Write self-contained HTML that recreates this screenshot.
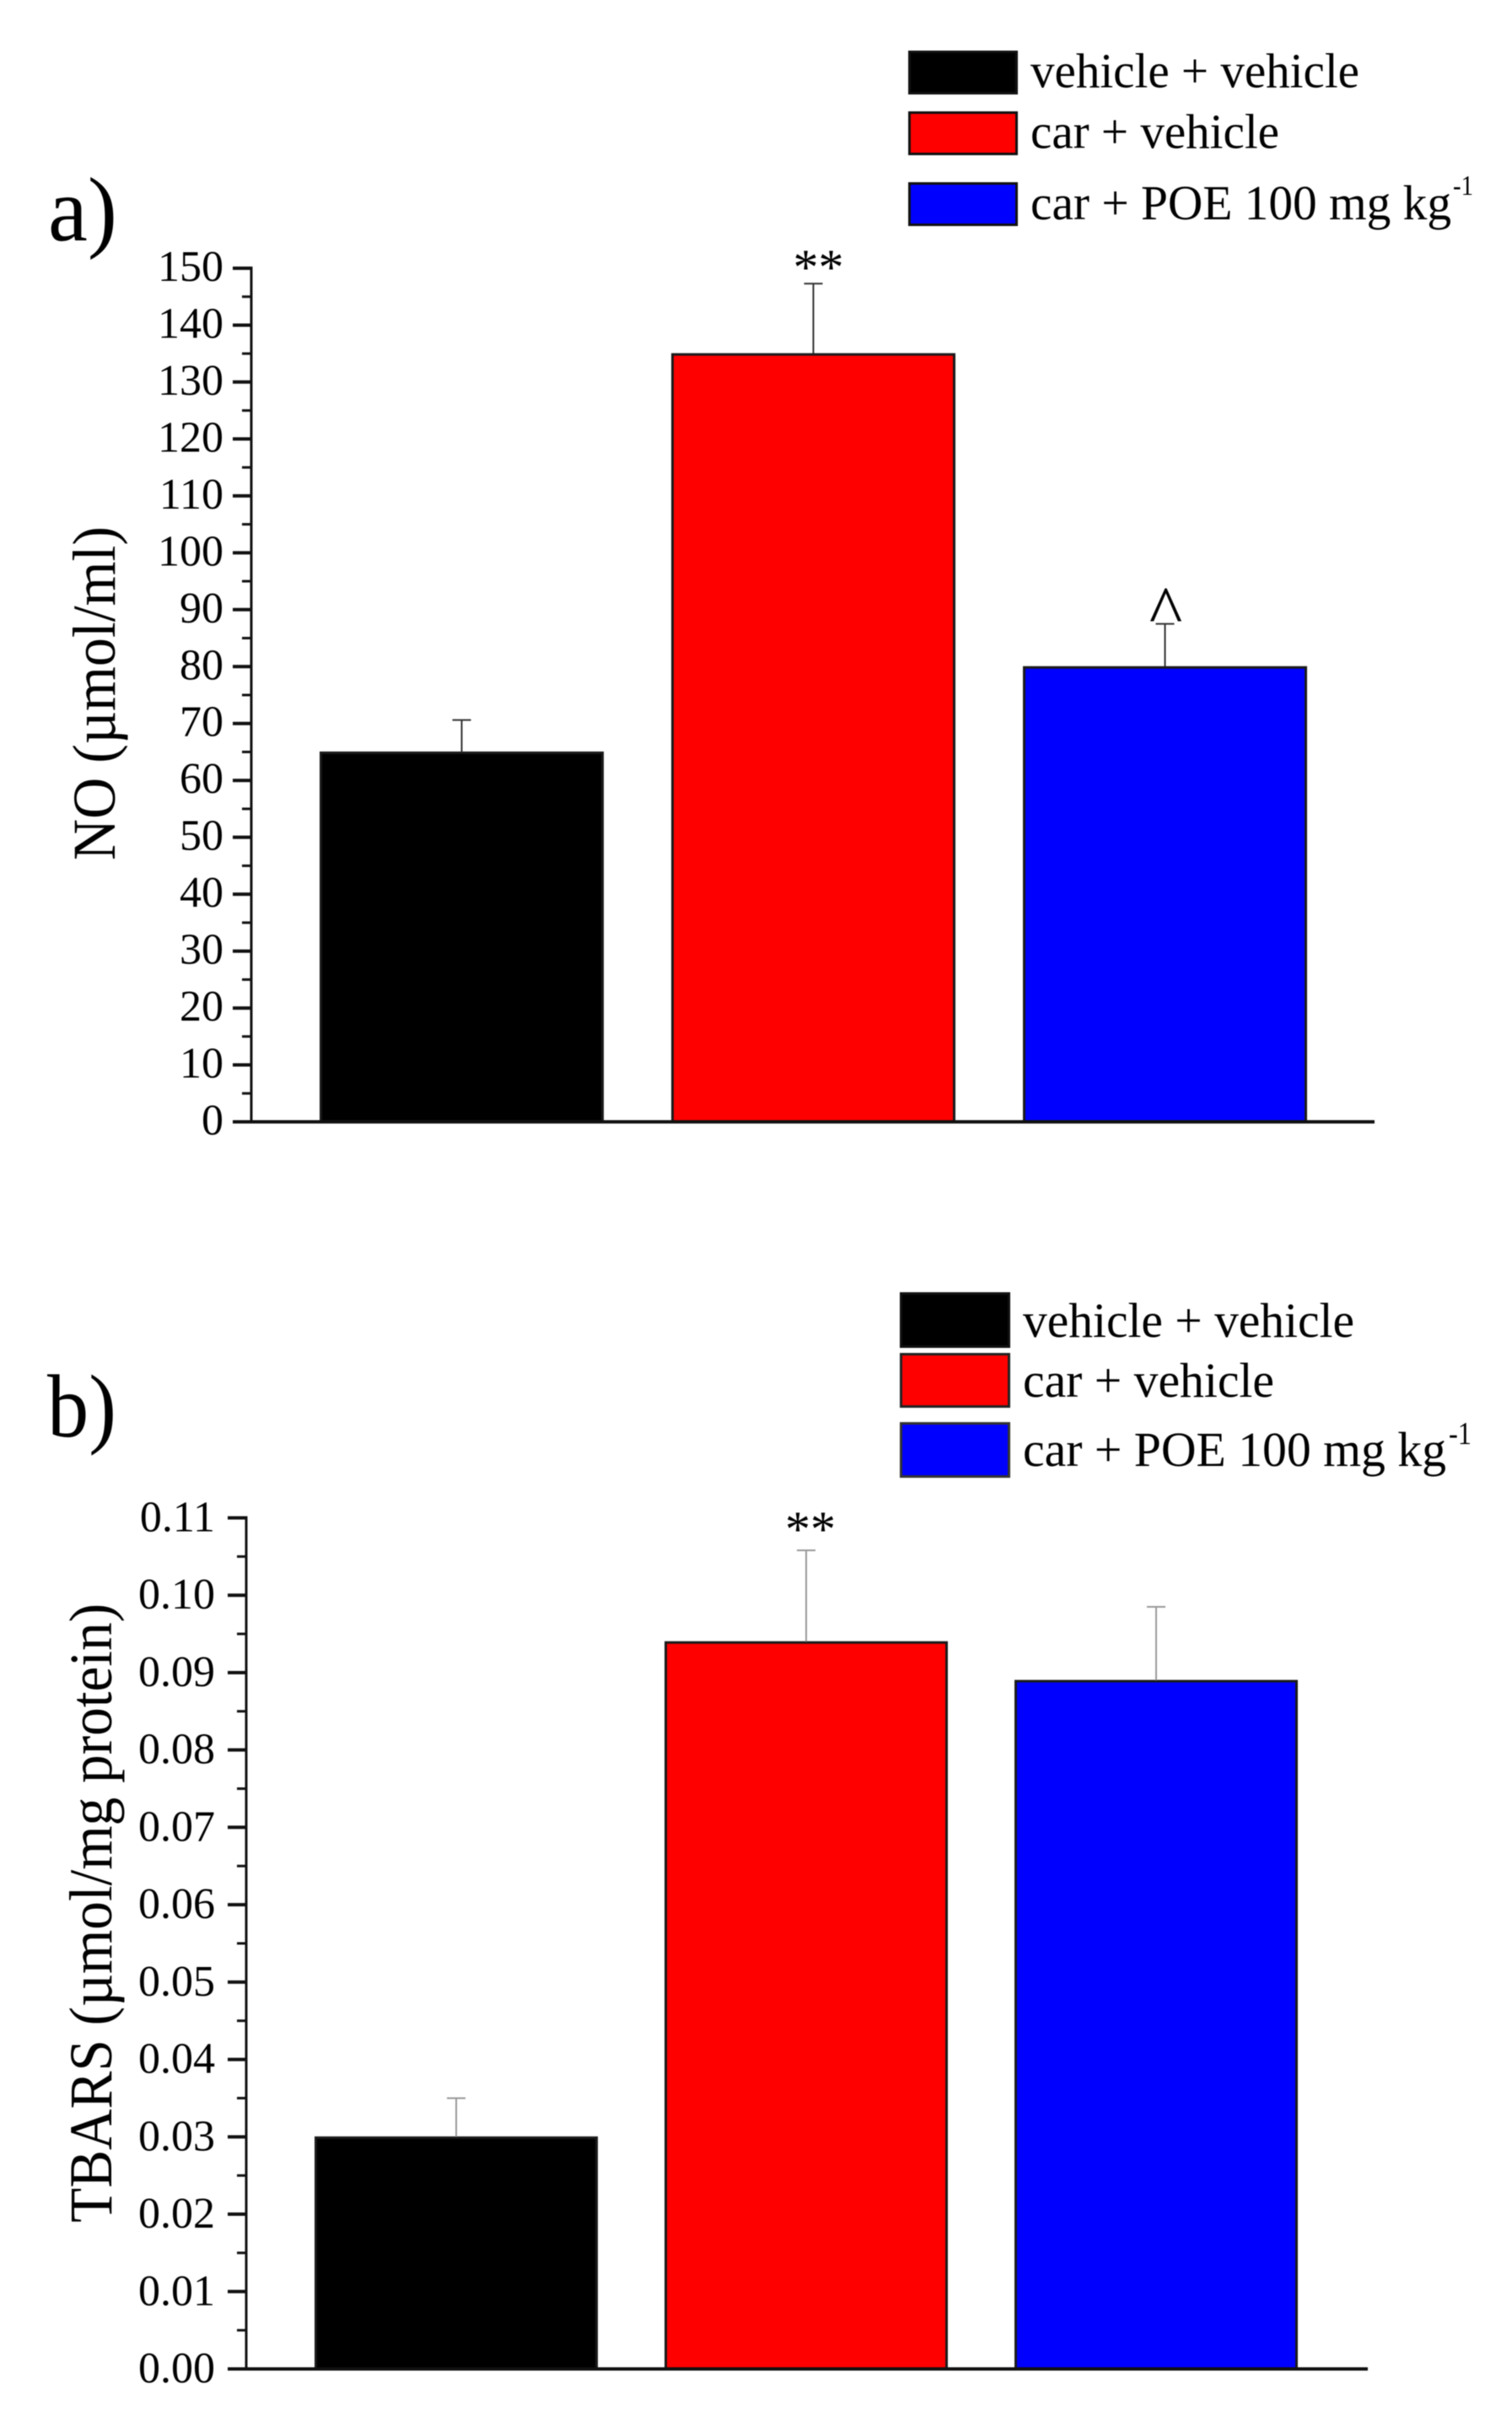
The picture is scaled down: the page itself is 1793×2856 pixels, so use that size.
<!DOCTYPE html>
<html lang="en">
<head>
<meta charset="utf-8">
<title>NO and TBARS bar charts</title>
<style>
html,body{margin:0;padding:0;background:#fff;width:1793px;height:2856px;overflow:hidden}
svg{display:block;filter:blur(0.6px)}
text{font-family:"Liberation Serif","Times New Roman",serif;fill:#000}
</style>
</head>
<body>
<svg id="figure" xmlns="http://www.w3.org/2000/svg" width="1793" height="2856" viewBox="0 0 1793 2856">
  <rect x="0" y="0" width="1793" height="2856" fill="#fff"/>

  <g id="panel-a">
    <text x="57" y="285" font-size="108" textLength="82" lengthAdjust="spacingAndGlyphs">a)</text>
    <g>
      <rect x="1078.5" y="61.5" width="127" height="49" fill="#000" stroke="#111" stroke-width="3"/>
      <rect x="1078.5" y="133.5" width="127" height="49" fill="#f00" stroke="#111" stroke-width="3"/>
      <rect x="1078.5" y="217.5" width="127" height="49" fill="#00f" stroke="#111" stroke-width="3"/>
      <text x="1222" y="103.5" font-size="58" textLength="390" lengthAdjust="spacingAndGlyphs">vehicle + vehicle</text>
      <text x="1222" y="175.5" font-size="58" textLength="295" lengthAdjust="spacingAndGlyphs">car + vehicle</text>
      <text x="1222" y="260" font-size="58" textLength="499" lengthAdjust="spacingAndGlyphs">car + POE 100 mg kg</text>
      <text x="1723" y="231" font-size="34" textLength="24" lengthAdjust="spacingAndGlyphs">-1</text>
    </g>
    <text transform="translate(136,1020) rotate(-90)" font-size="72" textLength="396" lengthAdjust="spacingAndGlyphs">NO (µmol/ml)</text>
  </g>

  <g id="panel-b">
    <text x="56" y="1703" font-size="106" textLength="82" lengthAdjust="spacingAndGlyphs">b)</text>
    <g>
      <rect x="1068.5" y="1533.5" width="128" height="63" fill="#000" stroke="#111" stroke-width="3"/>
      <rect x="1068.5" y="1605.5" width="128" height="62" fill="#f00" stroke="#222" stroke-width="3"/>
      <rect x="1068.5" y="1687.5" width="128" height="63" fill="#00f" stroke="#333" stroke-width="3"/>
      <text x="1213" y="1585" font-size="58" textLength="393" lengthAdjust="spacingAndGlyphs">vehicle + vehicle</text>
      <text x="1213" y="1656" font-size="58" textLength="298" lengthAdjust="spacingAndGlyphs">car + vehicle</text>
      <text x="1213" y="1738" font-size="58" textLength="502" lengthAdjust="spacingAndGlyphs">car + POE 100 mg kg</text>
      <text x="1718" y="1712" font-size="38" textLength="27" lengthAdjust="spacingAndGlyphs">-1</text>
    </g>
    <text transform="translate(132,2635) rotate(-90)" font-size="72" textLength="734" lengthAdjust="spacingAndGlyphs">TBARS (µmol/mg protein)</text>
  </g>
</svg>

<script>
const categories = ['vehicle + vehicle', 'car + vehicle', 'car + POE 100 mg kg-1'];
const barColors = ['#000000', '#ff0000', '#0000ff'];

const noValues = [65, 135, 80];
const noErrors = [5.6, 12.3, 7.5];
const noMarks = ['', '**', '^'];
const noTickLabels = ['0', '10', '20', '30', '40', '50', '60', '70', '80', '90', '100', '110', '120', '130', '140', '150'];

const tbarsValues = [0.03, 0.094, 0.089];
const tbarsErrors = [0.005, 0.0118, 0.0095];
const tbarsMarks = ['', '**', ''];
const tbarsTickLabels = ['0.00', '0.01', '0.02', '0.03', '0.04', '0.05', '0.06', '0.07', '0.08', '0.09', '0.10', '0.11'];

const SVG_NS = 'http://www.w3.org/2000/svg';

function svgEl(tag, parent, attrs) {
  const el = document.createElementNS(SVG_NS, tag);
  for (const k in attrs) el.setAttribute(k, attrs[k]);
  parent.appendChild(el);
  return el;
}

function linear(d0, d1, r0, r1) {
  return function (v) { return r0 + (v - d0) / (d1 - d0) * (r1 - r0); };
}

function drawChart(parent, prefix, values, errors, marks, tickLabels, frame) {
  const nums = tickLabels.map(Number);
  const yMin = nums[0];
  const yMax = nums[nums.length - 1];
  const step = nums[1] - nums[0];
  const y = linear(yMin, yMax, frame.yBottom, frame.yTop);
  const x = linear(0, categories.length - 1, frame.xFirst, frame.xLast);

  values.forEach(function (v, i) {
    const top = y(v);
    const bar = svgEl('rect', parent, {
      x: x(i) - frame.barWidth / 2,
      y: top + 1,
      width: frame.barWidth,
      height: frame.yBottom - top - 1,
      fill: barColors[i],
      stroke: '#1a1a1a',
      'stroke-width': 3
    });
    
    

    const errTop = y(v + errors[i]);
    const stem = svgEl('line', parent, {
      x1: x(i), x2: x(i), y1: top, y2: errTop,
      stroke: frame.errColor, 'stroke-width': 2
    });
    
    

    const cap = svgEl('line', parent, {
      x1: x(i) - 11, x2: x(i) + 11, y1: errTop, y2: errTop,
      stroke: frame.errColor, 'stroke-width': 2
    });
    
    

    if (marks[i]) {
      const isCaret = marks[i] === '^';
      const sig = svgEl('text', parent, {
        x: x(i) + (isCaret ? 1 : frame.starShift),
        y: errTop + (isCaret ? 13 : frame.starOffset),
        'font-size': isCaret ? 84 : 60,
        'text-anchor': 'middle'
      });
      sig.textContent = marks[i];
      
      
    }
  });

  const yAxis = svgEl('line', parent, {
    x1: frame.xAxis, x2: frame.xAxis, y1: y(yMax) - 2, y2: frame.yBottom,
    stroke: '#111', 'stroke-width': 3
  });
  
  

  const xAxis = svgEl('line', parent, {
    x1: frame.xAxis - 22, x2: frame.xEnd, y1: frame.yBottom, y2: frame.yBottom,
    stroke: '#111', 'stroke-width': 4
  });
  
  

  tickLabels.forEach(function (label, i) {
    const v = nums[i];
    const tick = svgEl('line', parent, {
      x1: frame.xAxis - 22, x2: frame.xAxis, y1: y(v), y2: y(v),
      stroke: '#111', 'stroke-width': 4
    });
    
    

    const text = svgEl('text', parent, {
      x: frame.labelRight,
      y: y(v) + frame.labelDrop,
      'font-size': frame.labelSize,
      'text-anchor': 'end'
    });
    text.textContent = label;
    
    

    if (i < tickLabels.length - 1) {
      const minor = svgEl('line', parent, {
        x1: frame.xAxis - 11, x2: frame.xAxis, y1: y(v + step / 2), y2: y(v + step / 2),
        stroke: '#111', 'stroke-width': 3
      });
      
      
    }
  });
}

drawChart(document.getElementById('panel-a'), 'no', noValues, noErrors, noMarks, noTickLabels, {
  xFirst: 547.5, xLast: 1381.5, barWidth: 334,
  yBottom: 1330, yTop: 318,
  xAxis: 298, xEnd: 1630,
  labelRight: 265, labelDrop: 15, labelSize: 52,
  errColor: '#333', starOffset: 1, starShift: 6
});

drawChart(document.getElementById('panel-b'), 'tbars', tbarsValues, tbarsErrors, tbarsMarks, tbarsTickLabels, {
  xFirst: 541, xLast: 1371, barWidth: 333,
  yBottom: 2808.5, yTop: 1799.5,
  xAxis: 292, xEnd: 1622,
  labelRight: 255, labelDrop: 16, labelSize: 52,
  errColor: '#999', starOffset: -5, starShift: 5
});
</script>
</body>
</html>
